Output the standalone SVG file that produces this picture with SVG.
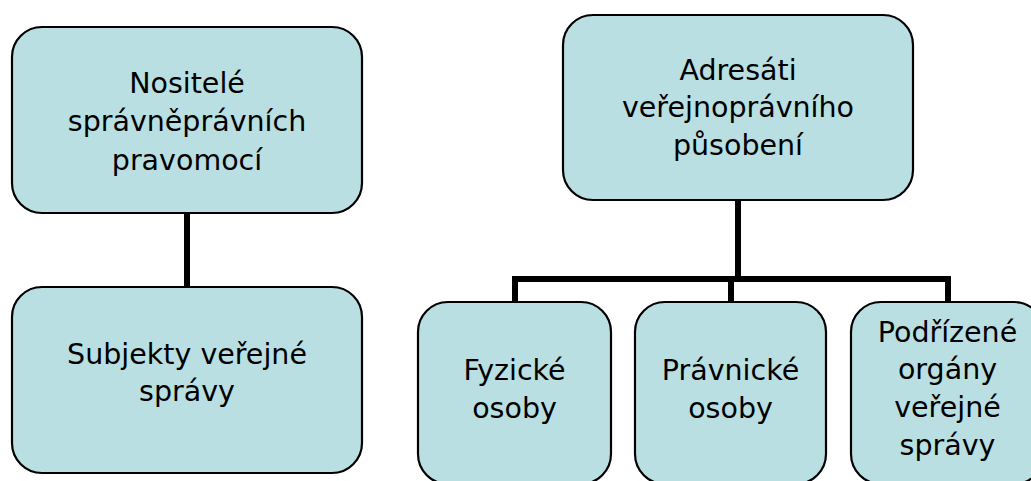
<svg xmlns="http://www.w3.org/2000/svg" width="1031" height="481" viewBox="0 0 1031 481">
<style>
.box{fill:#b9dfe2;stroke:#000;stroke-width:2.2}
.t{font-family:"DejaVu Sans",Verdana,sans-serif;font-size:28.5px;fill:#000;text-anchor:middle}
.c{fill:none;stroke:#000;stroke-width:6}
</style>
<rect width="1031" height="481" fill="#fff"/>
<g id="connectors">
<line class="c" x1="187" y1="213" x2="187" y2="287"/>
<line class="c" x1="738" y1="200" x2="738" y2="279"/>
<polyline class="c" points="515,303 515,279 948,279 948,303"/>
<line class="c" x1="731" y1="279" x2="731" y2="303"/>
</g>
<g id="nositele">
<rect class="box" x="12" y="27" width="350" height="186" rx="30"/>
<text class="t" x="187" y="93">Nositelé</text>
<text class="t" x="187" y="131">správněprávních</text>
<text class="t" x="187" y="170">pravomocí</text>
</g>
<g id="subjekty">
<rect class="box" x="12" y="287" width="350" height="186" rx="30"/>
<text class="t" x="187" y="364">Subjekty veřejné</text>
<text class="t" x="187" y="401">správy</text>
</g>
<g id="adresati">
<rect class="box" x="563" y="15" width="350" height="185" rx="30"/>
<text class="t" x="738" y="80">Adresáti</text>
<text class="t" x="738" y="117">veřejnoprávního</text>
<text class="t" x="738" y="155">působení</text>
</g>
<g id="fyzicke">
<rect class="box" x="418" y="302" width="193" height="182" rx="30"/>
<text class="t" x="514.5" y="380">Fyzické</text>
<text class="t" x="514.5" y="418">osoby</text>
</g>
<g id="pravnicke">
<rect class="box" x="635" y="302" width="191" height="182" rx="30"/>
<text class="t" x="730.5" y="380">Právnické</text>
<text class="t" x="730.5" y="418">osoby</text>
</g>
<g id="podrizene">
<rect class="box" x="851" y="302" width="193" height="182" rx="30"/>
<text class="t" x="947.5" y="342">Podřízené</text>
<text class="t" x="947.5" y="379">orgány</text>
<text class="t" x="947.5" y="417">veřejné</text>
<text class="t" x="947.5" y="455">správy</text>
</g>
</svg>
